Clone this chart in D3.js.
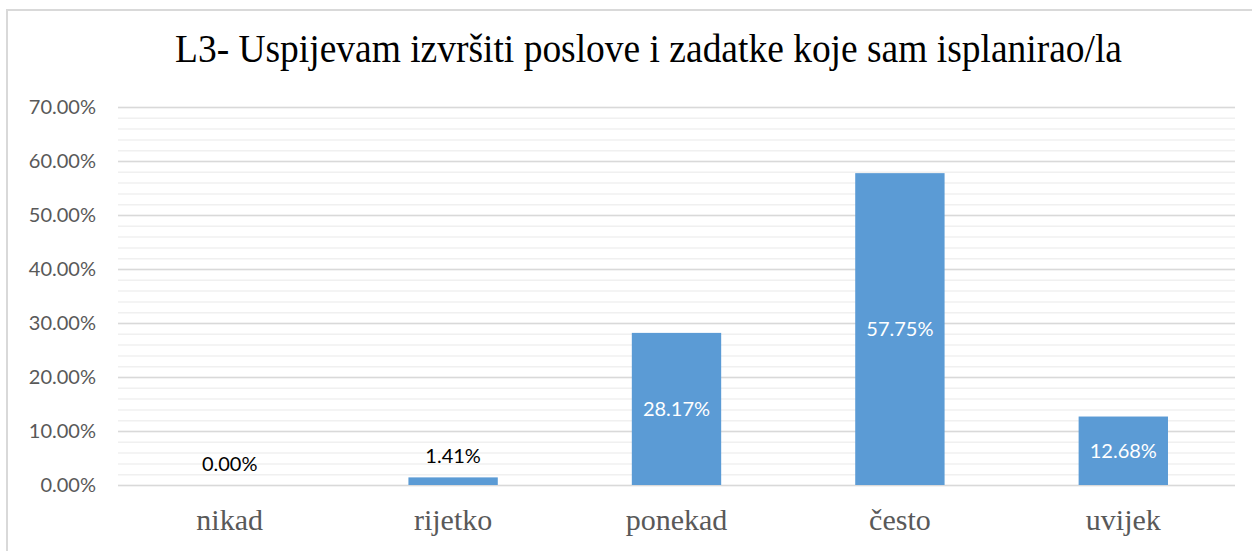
<!DOCTYPE html>
<html>
<head>
<meta charset="utf-8">
<script src="https://cdn.jsdelivr.net/npm/d3@7"></script>
<style>
  body { margin: 0; background: #fff; }
  svg { display: block; }
</style>
</head>
<body>
<svg width="1252" height="551"></svg>
<script>
// data
var categories = ['nikad', 'rijetko', 'ponekad', 'često', 'uvijek'];
var values = [0.00, 1.41, 28.17, 57.75, 12.68];
var yTicks = [0, 10, 20, 30, 40, 50, 60, 70];
var title = 'L3- Uspijevam izvršiti poslove i zadatke koje sam isplanirao/la';

var svg = d3.select('svg');
var svgWidth = +svg.attr('width');
var svgHeight = +svg.attr('height');

// plot area
var padding = {t: 107, r: 17, b: 66, l: 118};
var plotW = svgWidth - padding.l - padding.r;
var plotH = svgHeight - padding.t - padding.b;

// chart border (the frame runs off the picture on the right and bottom)
svg.append('rect')
    .attr('x', 7).attr('y', 10)
    .attr('width', svgWidth + 20).attr('height', svgHeight + 20)
    .attr('fill', 'none')
    .attr('stroke', '#d9d9d9')
    .attr('stroke-width', 2);

// title is a narrow serif in the original, so squeeze it to its width
svg.append('text')
    .attr('x', 175)
    .attr('y', 62)
    .attr('textLength', 947)
    .attr('lengthAdjust', 'spacingAndGlyphs')
    .style('font-family', '"Liberation Serif", "Times New Roman", serif')
    .style('font-size', '41px')
    .style('fill', '#000')
    .text(title);

var xScale = d3.scaleBand().domain(categories).range([0, plotW])
    .paddingInner(0.6).paddingOuter(0.3);
var yScale = d3.scaleLinear().domain([0, 70]).range([plotH, 0]);

var g = svg.append('g').attr('transform', 'translate(' + [padding.l, padding.t] + ')');

// minor gridlines every 2%
g.append('g').attr('class', 'minor-grid')
    .call(d3.axisLeft(yScale).tickValues(d3.range(0, 70.01, 2)).tickSize(-plotW).tickFormat(''))
    .call(function(a) {
        a.select('.domain').remove();
        a.selectAll('line').attr('stroke', '#f0f0f0').attr('stroke-width', 1.5);
    });

// major gridlines + labels
g.append('g').attr('class', 'y axis')
    .call(d3.axisLeft(yScale).tickValues(yTicks).tickSize(-plotW).tickPadding(22)
        .tickFormat(function(d) { return d.toFixed(2) + '%'; }))
    .call(function(a) {
        a.select('.domain').remove();
        a.selectAll('line').attr('stroke', '#d9d9d9').attr('stroke-width', 1.5);
        a.selectAll('text')
            .style('font-family', 'Lato, "Open Sans", sans-serif')
            .style('font-size', '20px')
            .attr('fill', '#595959');
    });

// bars
g.selectAll('.bar')
    .data(values)
    .enter()
    .append('rect')
    .attr('class', 'bar')
    .attr('x', function(d, i) { return xScale(categories[i]); })
    .attr('y', function(d) { return yScale(d); })
    .attr('width', xScale.bandwidth())
    .attr('height', function(d) { return plotH - yScale(d); })
    .attr('fill', '#5b9bd5');

// value labels: centered inside big bars, above small ones
g.selectAll('.val')
    .data(values)
    .enter()
    .append('text')
    .attr('class', 'val')
    .attr('x', function(d, i) { return xScale(categories[i]) + xScale.bandwidth() / 2; })
    .attr('y', function(d) {
        if (d > 5) return (yScale(d) + plotH) / 2;
        return yScale(d) - 21;
    })
    .attr('dy', '0.35em')
    .attr('text-anchor', 'middle')
    .style('font-family', 'Lato, "Open Sans", sans-serif')
    .style('font-size', '20px')
    .attr('fill', function(d) { return d > 5 ? '#fff' : '#000'; })
    .text(function(d) { return d.toFixed(2) + '%'; });

// category labels
g.append('g').attr('class', 'x axis')
    .attr('transform', 'translate(0,' + plotH + ')')
    .call(d3.axisBottom(xScale).tickSize(0).tickPadding(24))
    .call(function(a) {
        a.select('.domain').remove();
        a.selectAll('text')
            .style('font-family', '"Liberation Serif", "Times New Roman", serif')
            .style('font-size', '30px')
            .attr('fill', '#595959');
    });
</script>
</body>
</html>
